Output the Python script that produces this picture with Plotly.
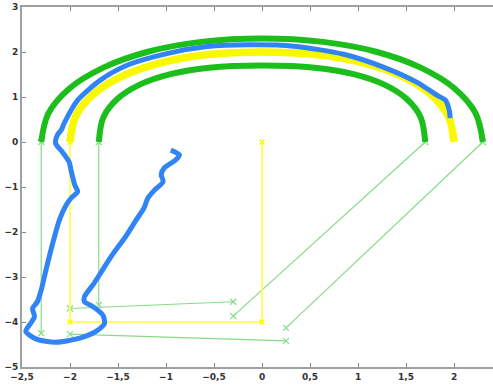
import plotly.graph_objects as go

# ---- data ----
# yellow centre path: straight part then the arc
yel_line_x = [0, 0, -2, -2]
yel_line_y = [0, -4, -4, 0]
yel_arc_x = [-2.0, -1.938, -1.755, -1.460, -1.065, -0.585, 0.0, 0.585, 1.065, 1.460, 1.755, 1.938, 2.0]
yel_arc_y = [0.0, 0.585, 1.065, 1.460, 1.755, 1.938, 2.0, 1.938, 1.755, 1.460, 1.065, 0.585, 0.0]

# outer green boundary
out_arc_x = [-2.30, -2.225, -2.006, -1.653, -1.189, -0.635, 0.0, 0.635, 1.189, 1.653, 2.006, 2.225, 2.30]
out_arc_y = [0.0, 0.635, 1.189, 1.653, 2.006, 2.225, 2.30, 2.225, 2.006, 1.653, 1.189, 0.635, 0.0]
out_line_x = [-2.3, -2.3, None, 2.3, 0.25, None, 0.25, -2.0]
out_line_y = [-4.25, 0.0, None, 0.0, -4.13, None, -4.42, -4.27]

# inner green boundary
in_arc_x = [-1.70, -1.652, -1.508, -1.274, -0.954, -0.551, 0.0, 0.551, 0.954, 1.274, 1.508, 1.652, 1.70]
in_arc_y = [0.0, 0.551, 0.954, 1.274, 1.508, 1.652, 1.70, 1.652, 1.508, 1.274, 0.954, 0.551, 0.0]
in_line_x = [-1.7, -1.7, None, 1.7, -0.3, None, -0.3, -2.0]
in_line_y = [-3.62, 0.0, None, 0.0, -3.87, None, -3.55, -3.70]

# blue measured trajectory
blue_x = [-0.95, -0.86, -0.90, -1.02, -1.05, -1.03, -1.12, -1.19, -1.23, -1.31, -1.42, -1.56,
          -1.66, -1.75, -1.85, -1.85, -1.76, -1.66, -1.64, -1.73, -1.90, -2.15, -2.35, -2.46,
          -2.41, -2.37, -2.39, -2.34, -2.30, -2.25, -2.18, -2.11, -2.04, -1.99, -1.92, -1.95,
          -1.99, -2.01, -2.08, -2.15, -2.13, -2.09, -2.06, -1.92, -1.68, -1.40, -0.98, -0.57,
          -0.15, 0.33, 0.85, 1.27, 1.62, 1.83, 1.91, 1.95, 1.96]
blue_y = [-0.18, -0.29, -0.40, -0.58, -0.73, -0.88, -1.07, -1.25, -1.47, -1.73, -2.10, -2.51,
          -2.84, -3.14, -3.44, -3.55, -3.66, -3.84, -4.03, -4.21, -4.36, -4.45, -4.38, -4.21,
          -4.03, -3.88, -3.70, -3.55, -3.29, -2.84, -2.25, -1.73, -1.40, -1.25, -1.10, -0.96,
          -0.62, -0.44, -0.22, -0.03, 0.16, 0.27, 0.42, 0.93, 1.38, 1.71, 1.97, 2.12,
          2.16, 2.13, 1.95, 1.66, 1.32, 1.03, 0.93, 0.71, 0.53]

x_ticks = [-2.5, -2, -1.5, -1, -0.5, 0, 0.5, 1, 1.5, 2, 2.5]
y_ticks = [-5, -4, -3, -2, -1, 0, 1, 2, 3]

GREEN = "#1cbe1c"
THIN_GREEN = "#86dc86"
YELLOW = "#f8f800"
THIN_YELLOW = "#ffff60"
BLUE = "#3184f6"

fig = go.Figure()

xmark = dict(symbol="x-thin", size=6, color=THIN_GREEN, line=dict(width=1.2, color=THIN_GREEN))
fig.add_trace(go.Scatter(x=out_line_x, y=out_line_y, mode="lines+markers",
                         line=dict(color=THIN_GREEN, width=1.2), marker=xmark))
fig.add_trace(go.Scatter(x=in_line_x, y=in_line_y, mode="lines+markers",
                         line=dict(color=THIN_GREEN, width=1.2), marker=xmark))
fig.add_trace(go.Scatter(x=yel_line_x, y=yel_line_y, mode="lines+markers",
                         line=dict(color=THIN_YELLOW, width=2),
                         marker=dict(symbol="x-thin", size=5, color=YELLOW, line=dict(width=1.5, color=YELLOW))))
fig.add_trace(go.Scatter(x=yel_arc_x, y=yel_arc_y, mode="lines",
                         line=dict(color=YELLOW, width=7.5, shape="spline", smoothing=1.0)))
fig.add_trace(go.Scatter(x=out_arc_x, y=out_arc_y, mode="lines",
                         line=dict(color=GREEN, width=6, shape="spline", smoothing=1.0)))
fig.add_trace(go.Scatter(x=in_arc_x, y=in_arc_y, mode="lines",
                         line=dict(color=GREEN, width=6, shape="spline", smoothing=1.0)))
fig.add_trace(go.Scatter(x=blue_x, y=blue_y, mode="lines",
                         line=dict(color=BLUE, width=5, shape="spline", smoothing=0.7)))

axis_font = dict(family="DejaVu Sans", size=9, color="#333333", weight="bold")
fig.update_layout(
    width=493, height=387,
    margin=dict(l=22, r=0, t=7, b=20),
    paper_bgcolor="white", plot_bgcolor="white",
    showlegend=False,
    separators=",.",
    font=axis_font,
    xaxis=dict(range=[-2.5, 2.406], tickvals=x_ticks, ticks="inside", ticklen=4,
               tickcolor="#888888", showline=True, linecolor="#a0a0a0", linewidth=1.5,
               mirror="ticks", showgrid=False, zeroline=False, automargin=False,
               tickfont=axis_font),
    yaxis=dict(range=[-5, 3], tickvals=y_ticks, ticks="inside", ticklen=4,
               tickcolor="#888888", showline=True, linecolor="#a0a0a0", linewidth=2,
               mirror=False, showgrid=False, zeroline=False, automargin=False,
               tickfont=axis_font),
)

fig.write_html("out.html", config={"displayModeBar": False},
               post_script="document.body.style.margin='0';document.body.style.overflow='hidden';")
